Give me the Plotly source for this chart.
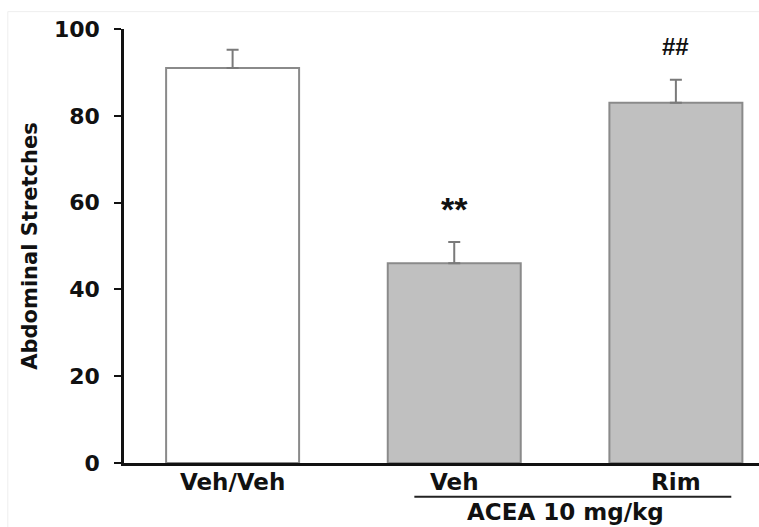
import plotly.graph_objects as go

categories = ["Veh/Veh", "Veh", "Rim"]
means = [91, 46, 83]
sems = [4.2, 4.9, 5.3]
fills = ["#ffffff", "#c0c0c0", "#c0c0c0"]
signif = ["", "**", "##"]
signif_size = [24, 34, 24]
signif_shift = [18, 12, 18]
y_ticks = [0, 20, 40, 60, 80, 100]
y_title = "Abdominal Stretches"
group_label = "ACEA 10 mg/kg"

FONT = "DejaVu Sans, sans-serif"
FONT2 = "Liberation Sans, Arial, sans-serif"
W, H = 759, 527
L, R, T, B = 124, 0, 29, 64

xs = list(range(len(categories)))

fig = go.Figure()
fig.add_trace(go.Bar(
    x=xs, y=means, width=0.6,
    marker=dict(color=fills, line=dict(color="#8a8a8a", width=2)),
    error_y=dict(type="data", array=sems, arrayminus=[0] * len(sems),
                 symmetric=False, color="#7a7a7a", thickness=2, width=6),
    showlegend=False,
))

# significance marks above error bars
for x, m, s, t, fs, sh in zip(xs, means, sems, signif, signif_size, signif_shift):
    if t:
        fig.add_annotation(x=x, y=m + s, xref="x", yref="y", text=t,
                           showarrow=False, yanchor="bottom", yshift=sh,
                           font=dict(family=FONT2, size=fs, color="#111111",
                                     weight="bold"))

# group bracket under Veh and Rim
fig.add_shape(type="line", xref="x", yref="paper", x0=0.82, x1=2.25,
              y0=-0.078, y1=-0.078, line=dict(color="#222222", width=2))
fig.add_annotation(x=1.5, y=-0.113, xref="x", yref="paper", text=group_label,
                   showarrow=False, yanchor="middle",
                   font=dict(family=FONT, size=23, color="#111111",
                             weight="bold"))

# faint frame of original figure
fig.add_shape(type="line", xref="paper", yref="paper",
              x0=-0.183, x1=-0.183, y0=-0.2, y1=1.04,
              line=dict(color="#eeeeee", width=1))
fig.add_shape(type="line", xref="paper", yref="paper",
              x0=-0.183, x1=1.0, y0=1.04, y1=1.04,
              line=dict(color="#eeeeee", width=1))

fig.update_layout(
    width=W, height=H,
    margin=dict(l=L, r=R, t=T, b=B, autoexpand=False),
    paper_bgcolor="white", plot_bgcolor="white",
    font=dict(family=FONT, color="#111111"),
    xaxis=dict(
        range=[-0.49, 2.375],
        tickmode="array", tickvals=xs, ticktext=categories,
        showline=True, linecolor="#111111", linewidth=2.5,
        ticks="", showgrid=False, zeroline=False,
        tickfont=dict(family=FONT, size=23, color="#111111", weight="bold"),
        ticklabelstandoff=-3,
    ),
    yaxis=dict(
        range=[0, 100],
        tickmode="array", tickvals=y_ticks,
        showline=True, linecolor="#111111", linewidth=2.5,
        ticks="outside", ticklen=7, tickwidth=2, tickcolor="#111111",
        showgrid=False, zeroline=False,
        tickfont=dict(family=FONT, size=22, color="#111111", weight="bold"),
        ticklabelstandoff=10,
        title=dict(text=y_title, standoff=11,
                   font=dict(family=FONT, size=21, color="#111111",
                             weight="bold")),
    ),
)

fig.write_html("out.html")
